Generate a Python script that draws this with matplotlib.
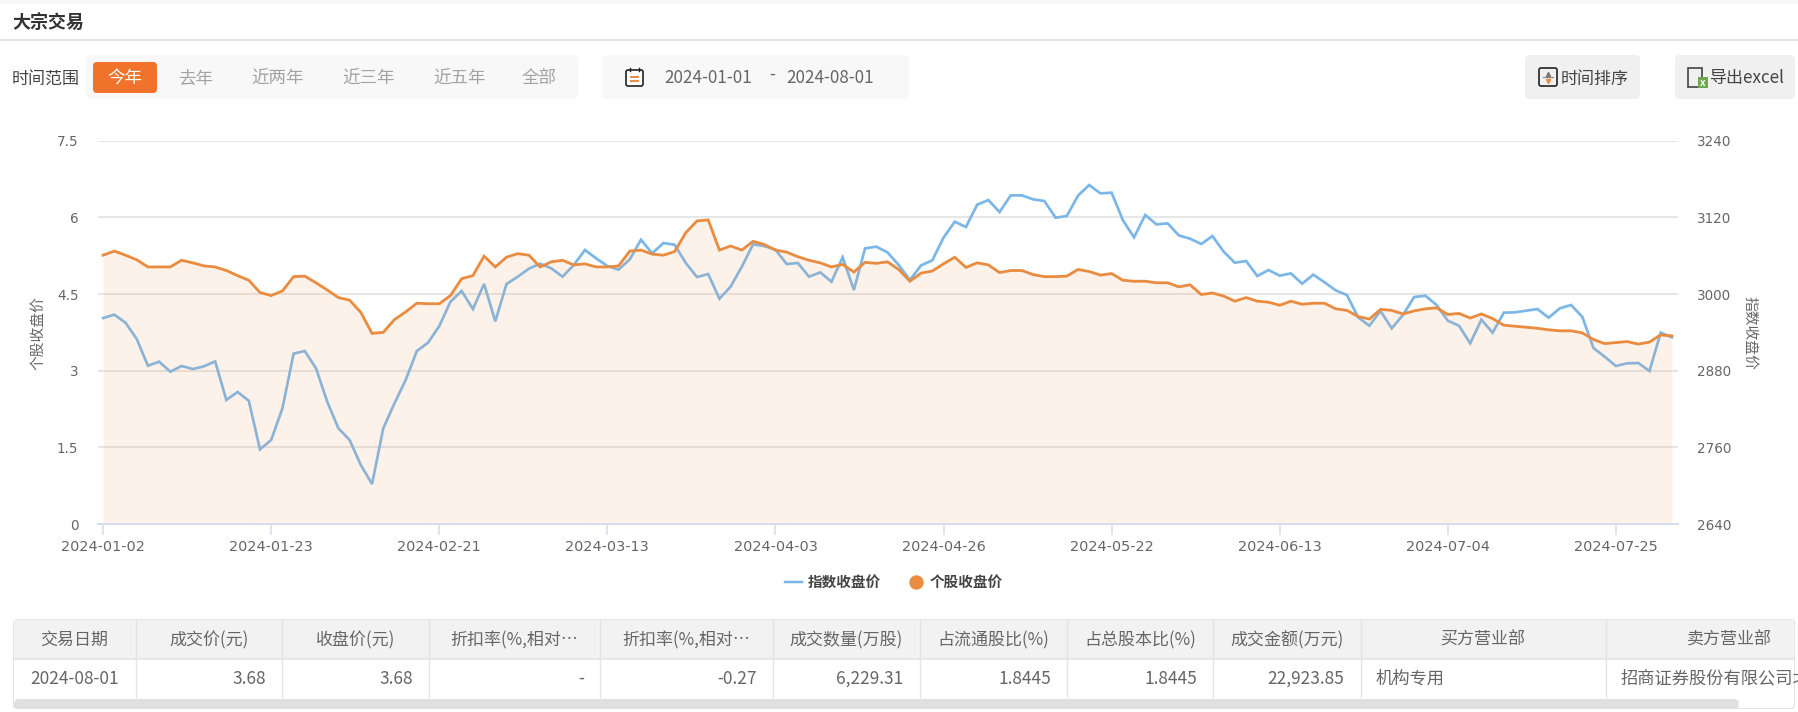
import numpy as np
import matplotlib
matplotlib.use("Agg")
import matplotlib.pyplot as plt
from matplotlib.lines import Line2D
from matplotlib.patches import FancyBboxPatch, Rectangle

plt.rcParams['font.family'] = ['Noto Sans CJK SC', 'DejaVu Sans']

# 个股收盘价 (left axis)
stock_close = [5.26, 5.34, 5.26, 5.17, 5.03, 5.03, 5.03, 5.16, 5.11, 5.05,
               5.03, 4.96, 4.86, 4.77, 4.53, 4.47, 4.56, 4.84, 4.85, 4.72,
               4.58, 4.43, 4.38, 4.14, 3.73, 3.75, 4.00, 4.15, 4.32, 4.31,
               4.31, 4.47, 4.80, 4.86, 5.24, 5.03, 5.22, 5.29, 5.26, 5.03,
               5.13, 5.16, 5.07, 5.09, 5.03, 5.03, 5.05, 5.34, 5.36, 5.28,
               5.26, 5.33, 5.70, 5.93, 5.95, 5.36, 5.44, 5.36, 5.53, 5.47,
               5.36, 5.32, 5.23, 5.16, 5.11, 5.03, 5.08, 4.93, 5.12, 5.10,
               5.13, 4.98, 4.75, 4.91, 4.95, 5.09, 5.22, 5.02, 5.11, 5.07,
               4.92, 4.96, 4.96, 4.88, 4.84, 4.84, 4.85, 4.98, 4.94, 4.87,
               4.90, 4.77, 4.75, 4.75, 4.72, 4.72, 4.64, 4.68, 4.49, 4.52,
               4.46, 4.36, 4.43, 4.36, 4.34, 4.28, 4.36, 4.30, 4.32, 4.32,
               4.21, 4.18, 4.06, 4.01, 4.20, 4.18, 4.11, 4.17, 4.21, 4.23,
               4.10, 4.12, 4.03, 4.11, 4.02, 3.89, 3.87, 3.85, 3.83, 3.80,
               3.78, 3.78, 3.74, 3.61, 3.53, 3.55, 3.57, 3.52, 3.56, 3.70,
               3.68]

# 指数收盘价 (right axis)
index_close = [2962.4, 2967.7, 2955.1, 2929.6, 2887.8, 2894.1, 2878.4, 2887.3, 2882.6, 2886.8,
               2894.6, 2834.1, 2846.6, 2833.0, 2756.9, 2771.5, 2821.0, 2906.6, 2910.8, 2883.7,
               2831.5, 2789.7, 2771.5, 2732.3, 2702.6, 2789.7, 2828.9, 2865.4, 2910.8, 2923.8,
               2949.9, 2988.0, 3004.7, 2976.5, 3015.7, 2957.2, 3015.7, 3027.1, 3039.7, 3047.5,
               3040.2, 3027.1, 3045.4, 3068.9, 3055.8, 3043.8, 3038.1, 3054.3, 3085.0, 3063.7,
               3079.8, 3077.2, 3048.5, 3026.6, 3031.3, 2992.7, 3011.5, 3042.8, 3077.7, 3075.1,
               3069.4, 3047.0, 3048.5, 3027.1, 3033.9, 3019.3, 3057.4, 3006.3, 3071.5, 3074.1,
               3065.2, 3045.4, 3021.9, 3044.9, 3052.7, 3088.2, 3113.2, 3104.9, 3139.8, 3147.1,
               3128.3, 3154.4, 3154.4, 3148.2, 3145.6, 3119.5, 3122.1, 3153.9, 3170.6, 3157.6,
               3158.6, 3115.8, 3088.7, 3123.7, 3109.0, 3110.6, 3091.8, 3086.6, 3078.3, 3090.8,
               3066.3, 3049.0, 3051.7, 3028.2, 3037.6, 3028.7, 3032.3, 3016.2, 3030.3, 3018.3,
               3005.7, 2998.4, 2963.5, 2950.4, 2973.4, 2946.3, 2967.1, 2995.3, 2997.4, 2982.8,
               2958.3, 2950.4, 2922.8, 2959.8, 2939.5, 2970.8, 2971.3, 2973.9, 2976.5, 2963.0,
               2977.6, 2982.8, 2964.5, 2915.5, 2901.9, 2887.3, 2891.5, 2892.0, 2879.5, 2939.5,
               2932.2]

date_labels = ["2024-01-02", "2024-01-23", "2024-02-21", "2024-03-13", "2024-04-03",
               "2024-04-26", "2024-05-22", "2024-06-13", "2024-07-04", "2024-07-25"]
left_ticks = [0, 1.5, 3, 4.5, 6, 7.5]
left_tick_labels = ["0", "1.5", "3", "4.5", "6", "7.5"]
right_ticks = [2640, 2760, 2880, 3000, 3120, 3240]

range_buttons = ["今年", "去年", "近两年", "近三年", "近五年", "全部"]
table_headers = ["交易日期", "成交价(元)", "收盘价(元)", "折扣率(%,相对…", "折扣率(%,相对…",
                 "成交数量(万股)", "占流通股比(%)", "占总股本比(%)", "成交金额(万元)",
                 "买方营业部", "卖方营业部"]
table_row = ["2024-08-01", "3.68", "3.68", "-", "-0.27", "6,229.31", "1.8445", "1.8445",
             "22,923.85", "机构专用", "招商证券股份有限公司北"]

W, H = 1798, 712
BLUE = "#7ab6e8"
ORANGE = "#ea8c40"
TXT = "#666666"

def px(n):
    return n * 0.72

fig = plt.figure(figsize=(W / 100, H / 100), dpi=100)

# page furniture, in pixel coordinates
ui = fig.add_axes([0, 0, 1, 1], zorder=0)
ui.set_xlim(0, W)
ui.set_ylim(H, 0)
ui.axis("off")

def box(x0, y0, x1, y1, color, r=4, z=1):
    ui.add_patch(FancyBboxPatch((x0 + r, y0 + r), x1 - x0 - 2 * r, y1 - y0 - 2 * r,
                                boxstyle="round,pad=%d,rounding_size=%d" % (r, r),
                                fc=color, ec="none", zorder=z))

def label(x, y, s, size=17, color=TXT, ha="center", **kw):
    return ui.text(x, y, s, fontsize=px(size), color=color, ha=ha, va="center", zorder=5, **kw)

ui.add_patch(Rectangle((0, 0), W, 4, fc="#f7f7f7", ec="none"))
ui.add_patch(Rectangle((0, 39), W, 2, fc="#e3e3e3", ec="none"))
label(12, 24, "大宗交易", size=18, color="#333333", ha="left", fontweight="bold")

label(12, 78.5, "时间范围", color="#444444", ha="left")
box(86, 55, 578, 99, "#f8f8f8", r=5)
box(93, 62, 157, 93, "#f0722b", r=4, z=2)
btn_x = [125, 196, 278, 368.5, 459.5, 539]
for i, (bx, s) in enumerate(zip(btn_x, range_buttons)):
    label(bx, 78.5, s, size=17.5, color="white" if i == 0 else "#a3a3a3")

box(602, 55, 909, 99, "#f8f8f8", r=5)
ui.add_patch(FancyBboxPatch((628, 72), 13, 12, boxstyle="round,pad=2,rounding_size=2",
                            fc="white", ec="#222222", lw=1.2, zorder=3))
ui.plot([631, 638], [77, 77], color="#f0893c", lw=1.4, zorder=4)
ui.plot([631, 638], [81, 81], color="#f0893c", lw=1.4, zorder=4)
ui.plot([630, 630], [68, 71], color="#222222", lw=1, zorder=4)
ui.plot([639, 639], [68, 71], color="#222222", lw=1, zorder=4)
label(708, 78, "2024-01-01")
label(772, 75, "-")
label(830, 78, "2024-08-01")

box(1525, 55, 1640, 99, "#f0f0f0", r=5)
ui.add_patch(FancyBboxPatch((1541, 70), 14, 14, boxstyle="round,pad=2,rounding_size=2",
                            fc="none", ec="#222222", lw=1.2, zorder=3))
ui.plot([1543, 1553], [77, 77], color="#888888", lw=0.8, zorder=4)
ui.plot(1548, 73.5, marker="^", ms=3, color="#777777", zorder=4)
ui.plot(1548, 80.5, marker="v", ms=3, color="#f0893c", zorder=4)
label(1561, 78.5, "时间排序", color="#444444", ha="left")

box(1675, 55, 1795, 99, "#f0f0f0", r=5)
ui.add_patch(Rectangle((1688, 68), 14, 19, fc="none", ec="#444444", lw=1.2, zorder=3))
ui.add_patch(Rectangle((1698, 77), 10, 11, fc="#6fa84f", ec="none", zorder=4))
ui.text(1703, 82.5, "x", color="white", fontsize=px(10), ha="center", va="center",
        fontweight="bold", zorder=5)
label(1710, 78.5, "导出excel", color="#444444", ha="left")

# table
edges = [13, 136, 282, 429, 600, 773, 919.5, 1067, 1213, 1360.5, 1605.6, 1853]
T_TOP, T_HEAD, T_BOT = 619, 659, 697
TABLE_R = 1795
clip = Rectangle((13, T_TOP), TABLE_R - 13, 90, transform=ui.transData)
box(13, T_TOP, TABLE_R, 709, "#e4e4e4", r=4, z=1)
box(14, T_TOP + 1, TABLE_R - 1, 708, "white", r=4, z=1)
ui.add_patch(Rectangle((14, T_TOP + 1), TABLE_R - 15, T_HEAD - T_TOP - 1, fc="#f2f2f2", ec="none", zorder=1.5))
ui.plot([14, TABLE_R - 1], [T_HEAD, T_HEAD], color="#e4e4e4", lw=1.2, zorder=2)
for e in edges[1:-1]:
    ui.plot([e, e], [T_TOP + 1, T_BOT], color="#e4e4e4", lw=1, zorder=2)
box(14, 699, 1739, 709, "#e0e0e0", r=5, z=3)
for i, (hd, val) in enumerate(zip(table_headers, table_row)):
    c = (edges[i] + edges[i + 1]) / 2
    t = label(c, 640, hd, size=17)
    t.set_clip_path(clip)
    if i == 0:
        t = label(c, 678.5, val, size=17.3)
    elif i >= 9:
        t = label(edges[i] + 15, 678.5, val, size=17.3, ha="left")
    else:
        t = label(edges[i + 1] - 16, 678.5, val, size=17.3, ha="right")
    t.set_clip_path(clip)

# chart
x = np.arange(len(stock_close))
L, R, TOP, BOT = 97.5, 1677.5, 140.7, 524
ax = fig.add_axes([L / W, 1 - BOT / H, (R - L) / W, (BOT - TOP) / H], zorder=3)
ax2 = ax.twinx()
ax2.set_zorder(2)
ax.set_zorder(3)
ax.patch.set_visible(False)
ax2.patch.set_visible(False)

ax2.plot(x, index_close, color=BLUE, lw=px(2.7), solid_joinstyle="miter", zorder=3)
ax2.yaxis.grid(True, color="#e6e6e6", lw=px(2), zorder=1)
ax2.set_axisbelow(True)
ax.fill_between(x, stock_close, 0, color="#f2a873", alpha=0.15, lw=0, zorder=1)
ax.plot(x, stock_close, color=ORANGE, lw=px(2.8), solid_joinstyle="miter", zorder=2)

ax.set_xlim(-0.5, len(x) - 0.5)
ax.set_ylim(0, 7.5)
ax2.set_ylim(2640, 3240)
ax.set_xticks(np.arange(0, len(x), 15))
ax.set_xticklabels(date_labels)
ax.set_yticks(left_ticks)
ax.set_yticklabels(left_tick_labels)
ax2.set_yticks(right_ticks)

for a in (ax, ax2):
    for s in a.spines.values():
        s.set_visible(False)
ax.spines["bottom"].set_visible(True)
ax.spines["bottom"].set_color("#d6dcee")
ax.spines["bottom"].set_linewidth(px(2))
ax.tick_params(axis="x", length=px(11), width=px(1.5), color="#d6dcee", labelsize=px(14.4),
               labelcolor=TXT, pad=px(5), labelfontfamily="DejaVu Sans")
ax.tick_params(axis="y", length=0, labelsize=px(13.5), labelcolor=TXT, pad=px(19),
               labelfontfamily="DejaVu Sans")
ax2.tick_params(axis="y", length=0, labelsize=px(13.5), labelcolor=TXT, pad=px(19),
                labelfontfamily="DejaVu Sans")

fig.text(38 / W, 1 - 333 / H, "个股收盘价", rotation=90, fontsize=px(14.8), color=TXT,
         ha="center", va="center")
fig.text(1750 / W, 1 - 333 / H, "指数收盘价", rotation=270, fontsize=px(14.8), color=TXT,
         ha="center", va="center")

handles = [Line2D([], [], color=BLUE, lw=px(2.5)),
           Line2D([], [], color=ORANGE, marker="o", ms=px(13), lw=0)]
leg = fig.legend(handles, ["指数收盘价", "个股收盘价"], ncol=2, frameon=False,
                 loc="center", bbox_to_anchor=(894 / W, 1 - 582 / H),
                 prop={"size": px(14.6), "weight": "bold"}, handlelength=1.15,
                 handletextpad=0.4, columnspacing=1.85, labelcolor="#444444")

fig.savefig("out.png", dpi=100)
